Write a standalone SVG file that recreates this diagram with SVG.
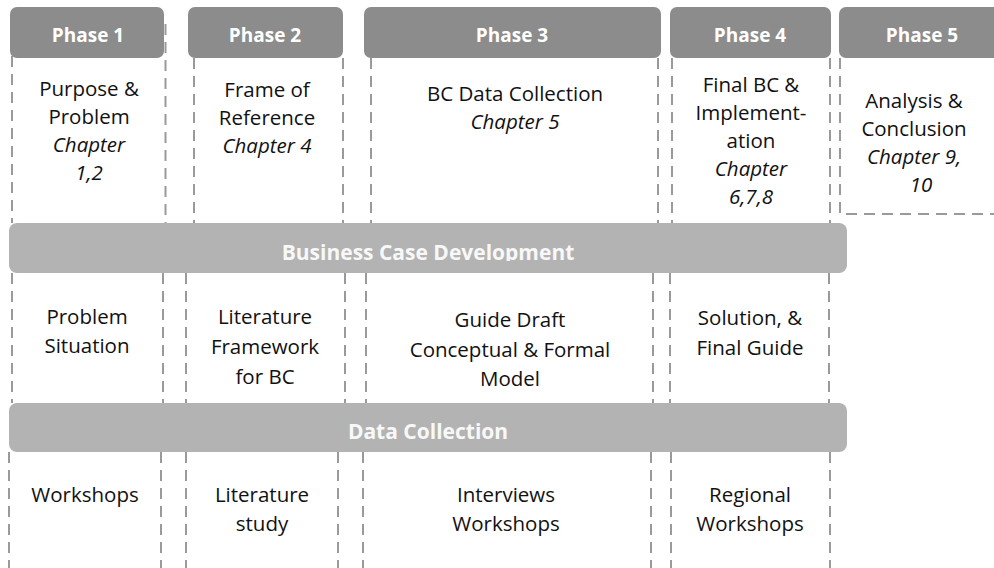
<svg xmlns="http://www.w3.org/2000/svg" width="994" height="568" viewBox="0 0 994 568">
<style>
.d{stroke:#9a9a9a;stroke-width:2;stroke-dasharray:11 7;fill:none}
.hdr{fill:#8c8c8c}
.band{fill:#b3b3b3}
.ht{font-family:"Open Sans","Liberation Sans",sans-serif;font-weight:bold;font-size:19px;fill:#ffffff;text-anchor:middle}
.bt{font-family:"Open Sans","Liberation Sans",sans-serif;font-weight:bold;font-size:21px;fill:#f8f8f8;text-anchor:middle}
.t{font-family:"Open Sans","Liberation Sans",sans-serif;font-size:20.5px;fill:#111111;text-anchor:middle}
.i{font-style:italic}
</style>
<defs>
<clipPath id="clipBand1"><rect x="9" y="223" width="838" height="38"/></clipPath>
</defs>
<rect width="994" height="568" fill="#ffffff"/>
<g id="borders">
<path class="d" d="M12 20V223M165.5 24V223M194 58V223M343 58V223M371 58V223M658 58V223M672 58V223M830 58V223"/>
<path class="d" d="M840 58V214H994"/>
<path class="d" d="M12 273V403M163 273V403M186 273V403M345 273V403M366 273V403M653 273V403M670 273V403M829 273V403"/>
<path class="d" d="M9 452V568M161 452V568M186 452V568M338 452V568M363 452V568M651 452V568M671 452V568M830 452V568"/>
</g>
<g id="phase1"><rect class="hdr" x="10" y="7" width="154" height="51" rx="7"/><text class="ht" x="88" y="42">Phase 1</text></g>
<g id="phase2"><rect class="hdr" x="188" y="7" width="155" height="51" rx="7"/><text class="ht" x="265" y="42">Phase 2</text></g>
<g id="phase3"><rect class="hdr" x="364" y="7" width="297" height="51" rx="7"/><text class="ht" x="512" y="42">Phase 3</text></g>
<g id="phase4"><rect class="hdr" x="670" y="7" width="161" height="51" rx="7"/><text class="ht" x="750" y="42">Phase 4</text></g>
<g id="phase5"><rect class="hdr" x="839" y="7" width="170" height="51" rx="7"/><text class="ht" x="922" y="42">Phase 5</text></g>
<g id="p1-top"><text class="t" x="89" y="96">Purpose &amp;</text><text class="t" x="89" y="124">Problem</text><text class="t i" x="89" y="152">Chapter</text><text class="t i" x="89" y="180">1,2</text></g>
<g id="p2-top"><text class="t" x="267" y="97">Frame of</text><text class="t" x="267" y="125">Reference</text><text class="t i" x="267" y="153">Chapter 4</text></g>
<g id="p3-top"><text class="t" x="515" y="101">BC Data Collection</text><text class="t i" x="515" y="129">Chapter 5</text></g>
<g id="p4-top"><text class="t" x="751" y="92">Final BC &amp;</text><text class="t" x="751" y="120">Implement-</text><text class="t" x="751" y="148">ation</text><text class="t i" x="751" y="176">Chapter</text><text class="t i" x="751" y="204">6,7,8</text></g>
<g id="p5-top"><text class="t" x="914" y="108">Analysis &amp;</text><text class="t" x="914" y="136">Conclusion</text><text class="t i" x="914" y="164">Chapter 9,</text><text class="t i" x="921" y="192">10</text></g>
<g id="band-bcd"><rect class="band" x="9" y="223" width="838" height="50" rx="8"/><text class="bt" x="428" y="260" clip-path="url(#clipBand1)">Business Case Development</text></g>
<g id="p1-mid"><text class="t" x="87" y="324">Problem</text><text class="t" x="87" y="353">Situation</text></g>
<g id="p2-mid"><text class="t" x="265" y="324">Literature</text><text class="t" x="265" y="354">Framework</text><text class="t" x="265" y="384">for BC</text></g>
<g id="p3-mid"><text class="t" x="510" y="327">Guide Draft</text><text class="t" x="510" y="357">Conceptual &amp; Formal</text><text class="t" x="510" y="386">Model</text></g>
<g id="p4-mid"><text class="t" x="750" y="325">Solution, &amp;</text><text class="t" x="750" y="355">Final Guide</text></g>
<g id="band-dc"><rect class="band" x="9" y="403" width="838" height="49" rx="8"/><text class="bt" x="428" y="439">Data Collection</text></g>
<g id="p1-bot"><text class="t" x="85" y="502">Workshops</text></g>
<g id="p2-bot"><text class="t" x="262" y="502">Literature</text><text class="t" x="262" y="531">study</text></g>
<g id="p3-bot"><text class="t" x="506" y="502">Interviews</text><text class="t" x="506" y="531">Workshops</text></g>
<g id="p4-bot"><text class="t" x="750" y="502">Regional</text><text class="t" x="750" y="531">Workshops</text></g>
</svg>
